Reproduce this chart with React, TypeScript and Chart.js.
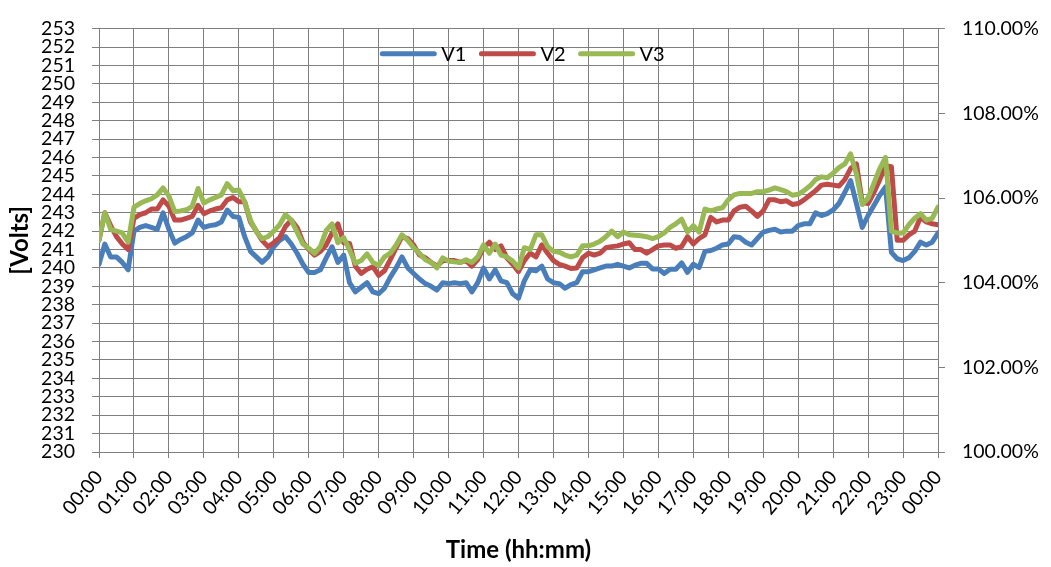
import { useEffect, useRef } from 'react';
import { Chart, registerables } from 'chart.js';

Chart.register(...registerables);

// Readings are taken every 10 minutes over one day (00:00 .. 24:00).
const SAMPLES_PER_HOUR = 6;

const HOUR_LABELS = [
  '00:00', '01:00', '02:00', '03:00', '04:00', '05:00', '06:00', '07:00',
  '08:00', '09:00', '10:00', '11:00', '12:00', '13:00', '14:00', '15:00',
  '16:00', '17:00', '18:00', '19:00', '20:00', '21:00', '22:00', '23:00', '00:00',
];

const SERIES_NAMES = ['V1', 'V2', 'V3'];
const SERIES_COLORS = ['#4A7EBB', '#BE4B48', '#98B954'];

// Phase voltages [V], one value per 10-minute sample (145 samples).
const V1 = [
  240.2, 241.3, 240.6, 240.6, 240.3, 239.9,
  242.0, 242.2, 242.3, 242.2, 242.1, 243.0,
  242.1, 241.35, 241.55, 241.7, 241.9, 242.6,
  242.2, 242.3, 242.35, 242.5, 243.15, 242.8,
  242.75, 241.7, 240.9, 240.6, 240.3, 240.6,
  241.15, 241.5, 241.7, 241.3, 240.8, 240.2,
  239.75, 239.75, 239.9, 240.55, 241.15, 240.3,
  240.7, 239.2, 238.7, 238.95, 239.2, 238.7,
  238.6, 238.9, 239.5, 240.0, 240.6, 240.0,
  239.7, 239.4, 239.15, 239.0, 238.8, 239.2,
  239.15, 239.2, 239.15, 239.2, 238.7, 239.2,
  240.0, 239.4, 239.9, 239.3, 239.2, 238.6,
  238.35, 239.3, 239.9, 239.85, 240.1, 239.4,
  239.2, 239.15, 238.9, 239.1, 239.2, 239.8,
  239.8, 239.9, 240.0, 240.1, 240.1, 240.2,
  240.1, 240.0, 240.15, 240.25, 240.25, 239.95,
  239.95, 239.7, 239.93, 239.93, 240.28, 239.76,
  240.2, 240.02, 240.9, 240.95, 241.07, 241.25,
  241.3, 241.7, 241.65, 241.4, 241.25, 241.6,
  241.95, 242.04, 242.1, 241.95, 242.0, 242.0,
  242.3, 242.4, 242.4, 243.0, 242.85, 242.95,
  243.15, 243.5, 244.1, 244.75, 243.5, 242.2,
  242.85, 243.4, 243.95, 244.4, 240.85, 240.5,
  240.4, 240.55, 240.9, 241.4, 241.25, 241.4,
  241.9,
];

const V2 = [
  241.5, 243.0, 242.3, 241.7, 241.3, 241.0,
  242.7, 242.9, 243.0, 243.2, 243.2, 243.7,
  243.35, 242.6, 242.6, 242.7, 242.8, 243.4,
  242.95, 243.1, 243.2, 243.27, 243.7, 243.83,
  243.6, 243.6, 242.5, 242.0, 241.5, 241.16,
  241.37, 241.65, 242.25, 242.6, 242.2, 241.4,
  241.0, 240.7, 240.9, 241.25, 241.9, 242.4,
  241.37, 241.33, 240.1, 239.7, 239.93, 240.07,
  239.6, 239.85, 240.45, 241.1, 241.7, 241.6,
  241.25, 240.7, 240.55, 240.3, 240.1, 240.4,
  240.4, 240.4, 240.3, 240.4, 240.1, 240.45,
  241.1, 241.4, 241.0, 241.2, 240.55, 240.2,
  239.8, 240.4, 240.8, 240.6, 241.25, 240.8,
  240.4, 240.2, 240.1, 239.97, 240.0, 240.55,
  240.8, 240.7, 240.8, 241.1, 241.16, 241.2,
  241.3, 241.37, 241.0, 241.0, 240.8, 241.0,
  241.2, 241.25, 241.25, 241.07, 241.16, 241.7,
  241.3, 241.6, 241.8, 242.75, 242.5, 242.6,
  242.6, 243.1, 243.3, 243.35, 243.1, 242.8,
  243.1, 243.7, 243.7, 243.6, 243.65, 243.45,
  243.5, 243.7, 243.95, 244.2, 244.5, 244.55,
  244.5, 244.45, 244.8, 245.4, 245.65, 243.55,
  243.5, 244.1, 244.8, 245.55, 245.5, 241.5,
  241.5, 241.8, 242.0, 242.75, 242.5, 242.4,
  242.35,
];

const V3 = [
  241.5, 243.0, 242.1, 242.0, 241.9, 241.4,
  243.3, 243.5, 243.65, 243.76, 243.97, 244.35,
  243.9, 243.06, 243.1, 243.16, 243.35, 244.32,
  243.53, 243.7, 243.83, 243.97, 244.58, 244.2,
  244.23, 243.6, 242.6, 241.97, 241.6, 241.7,
  242.0, 242.35, 242.9, 242.6, 241.95, 241.3,
  241.07, 240.8, 241.16, 242.04, 242.4, 241.37,
  241.65, 240.98, 240.25, 240.4, 240.77, 240.3,
  240.15, 240.6, 240.8, 241.25, 241.8, 241.5,
  241.1, 240.8, 240.45, 240.3, 240.0, 240.55,
  240.37, 240.33, 240.3, 240.45, 240.3, 240.6,
  241.25, 240.8, 241.3, 240.7, 240.6, 240.37,
  240.0, 241.1, 241.0, 241.8, 241.8, 241.16,
  240.9, 240.85, 240.7, 240.6, 240.7, 241.2,
  241.2, 241.3, 241.45, 241.7, 242.0, 241.7,
  241.95, 241.8, 241.78, 241.75, 241.7, 241.6,
  241.7, 241.9, 242.2, 242.4, 242.65, 241.95,
  242.3, 241.95, 243.2, 243.1, 243.2, 243.27,
  243.7, 243.97, 244.05, 244.05, 244.05, 244.14,
  244.14, 244.23, 244.35, 244.25, 244.15, 243.95,
  244.0, 244.2, 244.45, 244.8, 244.95, 244.9,
  245.15, 245.45, 245.65, 246.2, 245.1, 243.45,
  243.8, 244.6, 245.4, 246.0, 242.0, 241.9,
  241.9, 242.35, 242.7, 242.95, 242.6, 242.7,
  243.3,
];

const SERIES_VALUES = [V1, V2, V3];

// Left axis: volts. Right axis: the same range as a percentage of 230 V.
const VOLT_MIN = 230;
const VOLT_MAX = 253;
const PCT_MIN = 100;
const PCT_MAX = 110;
const PCT_STEP = 2;

const FONT = 'Lato, "Open Sans", sans-serif';
const TICK_FONT = { family: FONT, size: 19.5, lineHeight: 1.2 };
const TITLE_FONT = { family: FONT, size: 24, weight: 'bold' as const, lineHeight: 1.2 };
const GRID_COLOR = '#7f7f7f';

// Legend drawn inside the top of the plot area, centred horizontally.
const plotLegend = {
  id: 'plotLegend',
  afterDatasetsDraw(chart: Chart) {
    const { ctx, chartArea } = chart;
    const sampleLen = 56;
    const textGap = 5;
    const itemGap = 13;
    ctx.save();
    ctx.font = `20px ${FONT}`;
    const items = chart.data.datasets.map((ds: any) => ({
      label: ds.label as string,
      color: ds.borderColor as string,
      width: ctx.measureText(ds.label).width,
    }));
    const total =
      items.reduce((s, it) => s + sampleLen + textGap + it.width, 0) +
      itemGap * (items.length - 1);
    let x = (chartArea.left + chartArea.right) / 2 - total / 2 + 4;
    const y = chartArea.top + 25;
    ctx.textBaseline = 'middle';
    ctx.textAlign = 'left';
    for (const it of items) {
      ctx.strokeStyle = it.color;
      ctx.lineWidth = 5;
      ctx.lineCap = 'round';
      ctx.beginPath();
      ctx.moveTo(x + 2, y);
      ctx.lineTo(x + sampleLen - 2, y);
      ctx.stroke();
      x += sampleLen + textGap;
      ctx.fillStyle = '#000';
      ctx.fillText(it.label, x, y + 1);
      x += it.width + itemGap;
    }
    ctx.restore();
  },
};

export default function App() {
  const canvasRef = useRef<HTMLCanvasElement | null>(null);

  useEffect(() => {
    const canvas = canvasRef.current;
    if (!canvas) return;

    const datasets = SERIES_VALUES.map((values, s) => ({
      label: SERIES_NAMES[s],
      data: values.map((v, i) => ({ x: i / SAMPLES_PER_HOUR, y: v })),
      borderColor: SERIES_COLORS[s],
      backgroundColor: SERIES_COLORS[s],
      borderWidth: 5,
      pointRadius: 0,
      tension: 0,
      borderJoinStyle: 'round' as const,
      borderCapStyle: 'round' as const,
      yAxisID: 'y',
      order: SERIES_VALUES.length - s,
    }));

    const chart = new Chart(canvas, {
      type: 'line',
      data: { datasets },
      options: {
        responsive: false,
        animation: false,
        events: [],
        layout: { padding: { top: 15, left: 0, right: 0, bottom: 0 } },
        plugins: {
          legend: { display: false },
          tooltip: { enabled: false },
        },
        scales: {
          x: {
            type: 'linear',
            position: 'bottom',
            min: 0,
            max: HOUR_LABELS.length - 1,
            ticks: {
              stepSize: 1,
              autoSkip: false,
              minRotation: 50,
              maxRotation: 50,
              padding: 8,
              color: '#000',
              font: TICK_FONT,
              callback: (v: any) => HOUR_LABELS[Number(v)] ?? '',
            },
            grid: { color: GRID_COLOR, lineWidth: 1, tickLength: 6 },
            border: { color: GRID_COLOR, width: 1 },
            title: {
              display: true,
              text: 'Time (hh:mm)',
              color: '#000',
              font: TITLE_FONT,
              padding: { top: 0, bottom: 2 },
            },
            afterFit: (scale: any) => {
              scale.height = 115;
            },
          },
          y: {
            type: 'linear',
            position: 'left',
            min: VOLT_MIN,
            max: VOLT_MAX,
            ticks: {
              stepSize: 1,
              autoSkip: false,
              padding: 17,
              color: '#000',
              font: TICK_FONT,
            },
            grid: { color: GRID_COLOR, lineWidth: 1, tickLength: 7 },
            border: { color: GRID_COLOR, width: 1 },
            title: {
              display: true,
              text: '[Volts]',
              color: '#000',
              font: TITLE_FONT,
              padding: { top: 6, bottom: 0 },
            },
            afterFit: (scale: any) => {
              scale.width = 99;
            },
          },
          y2: {
            type: 'linear',
            position: 'right',
            min: PCT_MIN,
            max: PCT_MAX,
            ticks: {
              stepSize: PCT_STEP,
              autoSkip: false,
              padding: 17,
              color: '#000',
              font: TICK_FONT,
              callback: (v: any) => `${Number(v).toFixed(2)}%`,
            },
            grid: { drawOnChartArea: false, color: GRID_COLOR, lineWidth: 1, tickLength: 7 },
            border: { color: GRID_COLOR, width: 1 },
            afterFit: (scale: any) => {
              scale.width = 113;
            },
          },
        },
      },
      plugins: [plotLegend],
    });

    return () => chart.destroy();
  }, []);

  return (
    <div style={{ position: 'absolute', left: 0, top: 0, width: 1051, height: 567, background: '#fff' }}>
      <canvas ref={canvasRef} width={1051} height={567} />
    </div>
  );
}
